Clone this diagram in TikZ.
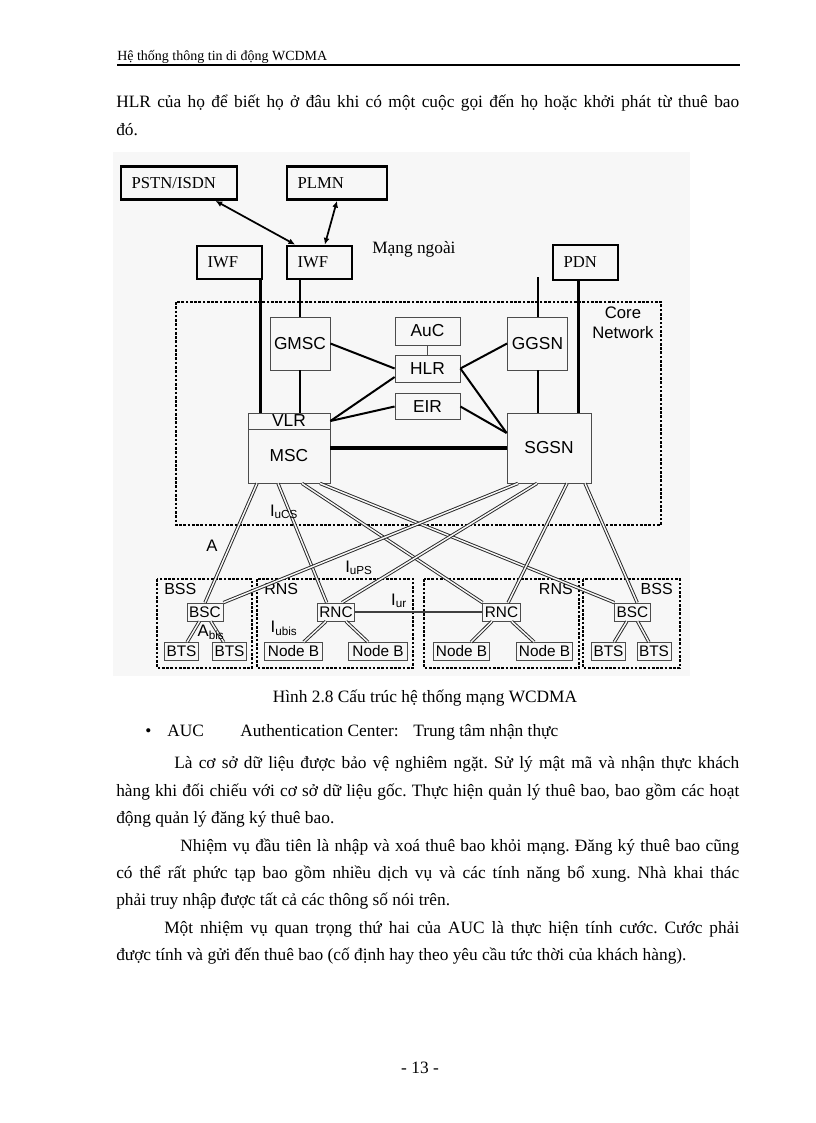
\documentclass[tikz,border=0pt]{standalone}
\usepackage{fontspec}
\setmainfont{Liberation Serif}
\setsansfont{Liberation Sans}
\frenchspacing
\usetikzlibrary{arrows.meta, positioning, calc}
\tikzset{
    netbox/.style={rectangle, draw, line width=1.8pt, text width=#1, align=left, inner xsep=8pt, minimum height=25pt, font=\fontsize{12.5}{14}\selectfont},
    corebox/.style={rectangle, draw=black!70, line width=0.6pt, inner sep=0pt, align=center, font=\sffamily\fontsize{13}{15}\selectfont},
    accbox/.style={rectangle, draw=black!70, line width=0.6pt, inner xsep=1.5pt, inner ysep=1pt, minimum height=13.5pt, font=\sffamily\fontsize{11.5}{13}\selectfont},
    netarrow/.style={{Latex[length=5pt,width=4.5pt]}-{Latex[length=5pt,width=4.5pt]}, line width=1.3pt},
    netline/.style={line width=1.5pt},
    trunkline/.style={line width=2.4pt},
    ifline/.style={double=black!3, double distance=1.1pt, line width=0.7pt, draw=black!85},
    urline/.style={line width=1.6pt, draw=black!75},
    groupbox/.style={draw, line width=1.8pt, dash pattern=on 2pt off 1.2pt},
    grouplabel/.style={font=\sffamily\fontsize{12}{14}\selectfont, inner sep=0pt},
    iflabel/.style={font=\sffamily\fontsize{12.5}{14}\selectfont, inner sep=0pt},
    bodyline/.style={anchor=base west, inner sep=0pt, font=\fontsize{13}{15}\selectfont}
}

\begin{document}
\begin{tikzpicture}[x=0.75pt, y=-0.75pt]
\useasboundingbox (0,0) rectangle (816,1123);

% page header
\node[bodyline, font=\fontsize{10.5}{12}\selectfont] (header) at (117,61) {Hệ thống thông tin di động WCDMA};
\draw[line width=0.8pt] (117,65) -- (740,65);

\node[bodyline] (p1a) at (116,108) {\makebox[467.25pt][s]{HLR của họ để biết họ ở đâu khi có một cuộc gọi đến họ hoặc khởi phát từ thuê bao}};
\node[bodyline] (p1b) at (116,136) {đó.};

% figure
\fill[black!3] (113,152) rectangle (690,676);

\node[netbox=71pt] (pstn) at (179,183) {PSTN/ISDN};
\node[netbox=59pt] (plmn) at (337,183) {PLMN};
\node[netbox=32.75pt] (iwfl) at (229.5,262.5) {IWF};
\node[netbox=32.75pt] (iwfr) at (319.5,262.5) {IWF};
\node[netbox=32.75pt, minimum height=26.25pt] (pdn) at (585.5,262.5) {PDN};
\node[anchor=west, inner sep=0pt, font=\fontsize{13}{15}\selectfont] (extnet) at (372,249) {Mạng ngoài};
\coordinate (pdnstub) at (537.5,277);

\draw[netarrow] ([xshift=-17pt]pstn.south east) -- ([xshift=7pt]iwfr.north west);
\draw[netarrow] (plmn.south) -- ([xshift=4pt]iwfr.north);

% core network
\draw[groupbox] (176,302) rectangle (661,525);
\node[align=center, inner sep=0pt, font=\sffamily\fontsize{12.5}{15}\selectfont] (corelabel) at (623,323) {Core\\Network};

\node[corebox, minimum width=45pt, minimum height=39.75pt] (gmsc) at (300,343.5) {GMSC};
\node[corebox, minimum width=48.75pt, minimum height=21pt] (auc) at (427.5,331) {AuC};
\node[corebox, minimum width=48.75pt, minimum height=20.25pt] (hlr) at (427.5,368.5) {HLR};
\node[corebox, minimum width=48.75pt, minimum height=19.5pt] (eir) at (427.5,406.5) {EIR};
\node[corebox, minimum width=45pt, minimum height=39.75pt] (ggsn) at (537.5,343.5) {GGSN};
\node[corebox, minimum width=61.5pt, minimum height=12pt] (vlr) at (289,421) {VLR};
\node[corebox, minimum width=61.5pt, minimum height=40.5pt] (msc) at (289,456) {MSC};
\node[corebox, minimum width=63pt, minimum height=52.5pt] (sgsn) at (549,448) {SGSN};

\draw[trunkline] ([xshift=-2.2pt]iwfl.south east) -- ([xshift=-2.2pt]iwfl.south east |- vlr.north);
\draw[netline] (gmsc.north) -- (gmsc.north |- iwfr.south);
\draw[netline] (gmsc.south) -- (gmsc.south |- vlr.north);
\draw[netline] (ggsn.north) -- (pdnstub);
\draw[netline] (ggsn.south) -- (ggsn.south |- sgsn.north);
\draw[trunkline] ([xshift=-5pt]pdn.south) -- ([xshift=-5pt]pdn.south |- sgsn.north);
\draw[line width=0.6pt, draw=black!70] (auc.south) -- (hlr.north);
\draw[netline] (gmsc.east) -- (hlr.west);
\draw[netline] (vlr.east) -- ([yshift=-6.4pt]hlr.west);
\draw[netline] (vlr.east) -- (eir.west);
\draw[netline] (hlr.east) -- (ggsn.west);
\draw[netline] (hlr.east) -- ([yshift=11.25pt]sgsn.west);
\draw[netline] (eir.east) -- ([yshift=11.25pt]sgsn.west);
\draw[trunkline] (msc.east |- sgsn.west) -- (sgsn.west);

% access networks
\draw[groupbox] (157,579) rectangle (252,668);
\draw[groupbox] (257,579) rectangle (413,668);
\draw[groupbox] (424,579) rectangle (579,668);
\draw[groupbox] (583,579) rectangle (680,668);
\node[grouplabel, anchor=west] (bssl) at (164,589) {BSS};
\node[grouplabel, anchor=west] (rnsl) at (264,589) {RNS};
\node[grouplabel, anchor=east] (rnsr) at (573,589) {RNS};
\node[grouplabel, anchor=east] (bssr) at (673,589) {BSS};

\node[accbox, minimum width=27pt] (bscl) at (205,612) {BSC};
\node[accbox, minimum width=26pt] (btsl1) at (181.5,651.5) {BTS};
\node[accbox, minimum width=26pt] (btsl2) at (229.5,651.5) {BTS};
\node[accbox, minimum width=25.5pt] (rncl) at (336,612) {RNC};
\node[accbox, minimum width=44pt] (nbl1) at (293.5,651.5) {Node B};
\node[accbox, minimum width=44pt] (nbl2) at (378,651.5) {Node B};
\node[accbox, minimum width=25.5pt] (rncr) at (501.5,612) {RNC};
\node[accbox, minimum width=42.5pt] (nbr1) at (461.5,651.5) {Node B};
\node[accbox, minimum width=42pt] (nbr2) at (544.5,651.5) {Node B};
\node[accbox, minimum width=26pt] (bscr) at (632.5,612) {BSC};
\node[accbox, minimum width=24pt] (btsr1) at (608.5,651.5) {BTS};
\node[accbox, minimum width=24pt] (btsr2) at (654,651.5) {BTS};

\draw[ifline] ([xshift=-24pt]msc.south) -- (bscl.north);
\draw[ifline] ([xshift=-8.25pt]msc.south) -- ([xshift=-7pt]rncl.north);
\draw[ifline] ([xshift=9.75pt]msc.south) -- (rncr.north west);
\draw[ifline] ([xshift=23.25pt]msc.south) -- (bscr.north west);
\draw[ifline] ([xshift=-23.25pt]sgsn.south) -- (bscl.north east);
\draw[ifline] ([xshift=-9pt]sgsn.south) -- ([xshift=4.5pt]rncl.north);
\draw[ifline] ([xshift=13.5pt]sgsn.south) -- ([xshift=5pt]rncr.north);
\draw[ifline] ([xshift=27pt]sgsn.south) -- ([xshift=3.5pt]bscr.north);

\draw[ifline] (bscl) -- (btsl1);
\draw[ifline] (bscl) -- (btsl2);
\draw[ifline] (rncl) -- (nbl1);
\draw[ifline] (rncl) -- (nbl2);
\draw[ifline] (rncr) -- (nbr1);
\draw[ifline] (rncr) -- (nbr2);
\draw[ifline] (bscr) -- (btsr1);
\draw[ifline] (bscr) -- (btsr2);
\draw[urline] (rncl) -- (rncr);

\node[iflabel] (lbla) at (212,546) {A};
\node[iflabel] (lbliucs) at (284,512) {I\textsubscript{uCS}};
\node[iflabel] (lbliups) at (359,568) {I\textsubscript{uPS}};
\node[iflabel] (lbliur) at (399,601) {I\textsubscript{ur}};
\node[iflabel] (lblabis) at (211,632) {A\textsubscript{bis}};
\node[iflabel] (lbliubis) at (284,628) {I\textsubscript{ubis}};

% caption and text below
\node[bodyline, anchor=base] (caption) at (425,702) {Hình 2.8 Cấu trúc hệ thống mạng WCDMA};
\node[bodyline] (bullet) at (145,736) {•};
\node[bodyline] (aucterm) at (167,736) {AUC};
\node[bodyline] (aucname) at (240,736) {Authentication Center:};
\node[bodyline] (aucvi) at (413,736) {Trung tâm nhận thực};

\node[bodyline] (p2a) at (174,768) {\makebox[423.75pt][s]{Là cơ sở dữ liệu được bảo vệ nghiêm ngặt. Sử lý mật mã và nhận thực khách}};
\node[bodyline] (p2b) at (116,796) {\makebox[467.25pt][s]{hàng khi đối chiếu với cơ sở dữ liệu gốc. Thực hiện quản lý thuê bao, bao gồm các hoạt}};
\node[bodyline] (p2c) at (116,823) {động quản lý đăng ký thuê bao.};

\node[bodyline] (p3a) at (180,851) {\makebox[419.25pt][s]{Nhiệm vụ đầu tiên là nhập và xoá thuê bao khỏi mạng. Đăng ký thuê bao cũng}};
\node[bodyline] (p3b) at (116,878) {\makebox[467.25pt][s]{có thể rất phức tạp bao gồm nhiều dịch vụ và các tính năng bổ xung. Nhà khai thác}};
\node[bodyline] (p3c) at (116,905) {phải truy nhập được tất cả các thông số nói trên.};

\node[bodyline] (p4a) at (164,933) {\makebox[431.25pt][s]{Một nhiệm vụ quan trọng thứ hai của AUC là thực hiện tính cước. Cước phải}};
\node[bodyline] (p4b) at (116,960) {được tính và gửi đến thuê bao (cố định hay theo yêu cầu tức thời của khách hàng).};

% page number
\node[bodyline, anchor=base] (pageno) at (420,1073) {- 13 -};

\end{tikzpicture}
\end{document}
